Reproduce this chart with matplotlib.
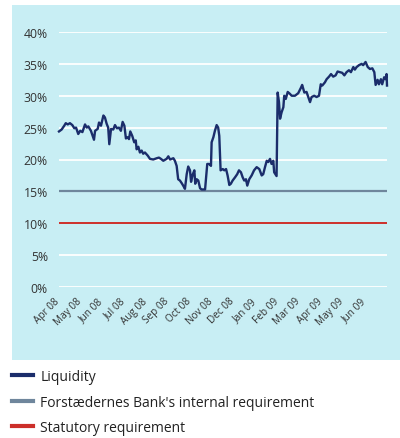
import matplotlib
matplotlib.use("Agg")
import matplotlib.pyplot as plt
from matplotlib.patches import Rectangle
from matplotlib.lines import Line2D
from matplotlib.transforms import ScaledTranslation

plt.rcParams['font.family'] = ['Open Sans', 'DejaVu Sans']

# ---- data ----
month_labels = ["Apr 08", "May 08", "Jun 08", "Jul 08", "Aug 08", "Sep 08", "Oct 08",
                "Nov 08", "Dec 08", "Jan 09", "Feb 09", "Mar 09", "Apr 09", "May 09", "Jun 09"]
# time in months since start of Apr 08
liq_t = [0.00, 0.12, 0.24, 0.31, 0.40, 0.50, 0.61, 0.70, 0.78, 0.88, 0.97, 1.07, 1.19, 1.27,
         1.34, 1.46, 1.60, 1.65, 1.77, 1.83, 1.92, 2.03, 2.10, 2.18, 2.25, 2.30, 2.38, 2.48,
         2.56, 2.65, 2.74, 2.83, 2.91, 2.99, 3.06, 3.14, 3.20, 3.26, 3.35, 3.44, 3.51, 3.55,
         3.63, 3.70, 3.78, 3.85, 3.93, 4.06, 4.16, 4.31, 4.47, 4.57, 4.66, 4.77, 4.92, 5.00,
         5.08, 5.23, 5.30, 5.38, 5.45, 5.53, 5.61, 5.68, 5.76, 5.84, 5.91, 5.99, 6.04, 6.11,
         6.19, 6.23, 6.30, 6.37, 6.45, 6.52, 6.68, 6.78, 6.87, 6.95, 6.98, 7.06, 7.13, 7.21,
         7.28, 7.33, 7.39, 7.49, 7.56, 7.64, 7.71, 7.79, 7.86, 7.94, 8.05, 8.15, 8.23, 8.32,
         8.40, 8.47, 8.55, 8.61, 8.70, 8.81, 8.92, 9.04, 9.16, 9.27, 9.34, 9.42, 9.50, 9.57,
         9.65, 9.72, 9.80, 9.84, 9.95, 10.00, 10.06, 10.11, 10.18, 10.26, 10.30, 10.37, 10.46,
         10.56, 10.64, 10.79, 10.94, 11.07, 11.12, 11.22, 11.32, 11.40, 11.48, 11.55, 11.67,
         11.78, 11.89, 11.97, 12.04, 12.16, 12.24, 12.35, 12.44, 12.54, 12.65, 12.74, 12.85,
         12.95, 13.05, 13.15, 13.26, 13.35, 13.46, 13.53, 13.61, 13.72, 13.84, 13.91, 14.02,
         14.12, 14.22, 14.33, 14.42, 14.48, 14.57, 14.63, 14.72, 14.78, 14.87, 14.94, 14.98,
         15.00]
liquidity = [24.4, 24.7, 25.3, 25.7, 25.5, 25.7, 25.4, 24.9, 25.0, 24.0, 24.5, 24.3, 25.5, 25.0,
             25.2, 24.5, 23.1, 24.5, 24.8, 25.8, 25.3, 26.9, 26.6, 25.6, 25.0, 22.4, 24.8, 24.7,
             25.4, 24.9, 25.0, 24.5, 25.9, 25.3, 23.3, 23.5, 23.2, 24.4, 23.7, 22.7, 23.0, 21.6,
             22.0, 21.1, 21.4, 20.9, 21.1, 20.6, 20.1, 20.0, 20.2, 20.3, 20.1, 19.8, 20.1, 20.5,
             20.0, 20.2, 19.8, 19.0, 16.9, 16.7, 16.3, 15.9, 15.4, 17.7, 18.9, 18.3, 16.5, 17.6,
             18.3, 16.2, 16.9, 16.7, 15.5, 15.3, 15.3, 19.3, 19.3, 19.0, 22.7, 23.5, 24.5, 25.4,
             25.0, 23.7, 18.3, 18.5, 18.3, 18.5, 17.5, 16.0, 16.2, 16.7, 17.2, 17.7, 18.3, 18.0,
             17.2, 16.7, 16.9, 15.9, 16.9, 17.5, 18.3, 18.8, 18.5, 17.5, 17.7, 18.8, 19.8, 19.6,
             20.1, 19.3, 19.8, 18.0, 17.4, 30.5, 29.0, 26.4, 27.4, 28.2, 30.0, 29.5, 30.6,
             30.3, 30.0, 30.0, 30.4, 31.3, 31.7, 30.5, 30.6, 29.8, 29.0, 29.8, 30.0,
             29.8, 30.0, 31.8, 31.6, 32.1, 32.6, 33.0, 33.4, 33.0, 33.2, 33.8, 33.7,
             33.6, 33.2, 33.7, 34.0, 33.7, 34.5, 34.1, 34.5, 34.8, 35.0, 34.8, 35.3,
             34.5, 34.2, 34.3, 33.7, 31.7, 32.5, 31.8, 32.6, 31.8, 32.9, 32.6, 33.4,
             31.6]
internal_req = 15
statutory_req = 10
y_ticks = [0, 5, 10, 15, 20, 25, 30, 35, 40]

# ---- colors ----
panel_col = "#c8eef4"
navy = "#1b2d6b"
grayblue = "#6f869c"
red = "#cc2f2a"

W, H = 400, 439
fig = plt.figure(figsize=(W / 100, H / 100), dpi=100)
fig.patch.set_facecolor("white")

# background panel
fig.patches.append(Rectangle((12 / W, 1 - 361 / H), (W - 12) / W, (361 - 6) / H,
                             transform=fig.transFigure, facecolor=panel_col,
                             edgecolor="none", zorder=-5))

ax = fig.add_axes([59 / W, 1 - 288 / H, (387 - 59) / W, (288 - 33) / H])
ax.set_zorder(2)
ax.patch.set_alpha(0)
ax.set_xlim(0, 15)
ax.set_ylim(0, 40)
for s in ax.spines.values():
    s.set_visible(False)
ax.set_yticks(y_ticks)
ax.set_yticklabels([f"{v}%" for v in y_ticks])
ax.yaxis.grid(True, color="white", linewidth=1.3)
ax.set_axisbelow(True)
ax.tick_params(axis="y", length=0, pad=8, labelsize=8.8, labelcolor="#333333")
ax.set_xticks(range(len(month_labels)))
ax.set_xticklabels(month_labels, rotation=45, ha="right", va="top")
ax.tick_params(axis="x", length=0, pad=6, labelsize=7.2, labelcolor="#333333")
off = ScaledTranslation(3 / 100, 0, fig.dpi_scale_trans)
for lab in ax.get_xticklabels():
    lab.set_transform(lab.get_transform() + off)

ax.axhline(statutory_req, color=red, linewidth=1.4, zorder=2)
ax.axhline(internal_req, color=grayblue, linewidth=1.6, zorder=2)
ax.plot(liq_t, liquidity, color=navy, linewidth=1.7, zorder=3, clip_on=False)

handles = [Line2D([], [], color=navy, linewidth=3),
           Line2D([], [], color=grayblue, linewidth=3),
           Line2D([], [], color=red, linewidth=3)]
labels = ["Liquidity", "Forstædernes Bank's internal requirement", "Statutory requirement"]
fig.legend(handles, labels, loc="upper left", bbox_to_anchor=(12 / W, 1 - 370 / H),
           frameon=False, fontsize=10, handlelength=1.5, handletextpad=0.55,
           labelspacing=0.76, borderaxespad=0, borderpad=0, labelcolor="#222222")

fig.savefig("out.png", dpi=100)
